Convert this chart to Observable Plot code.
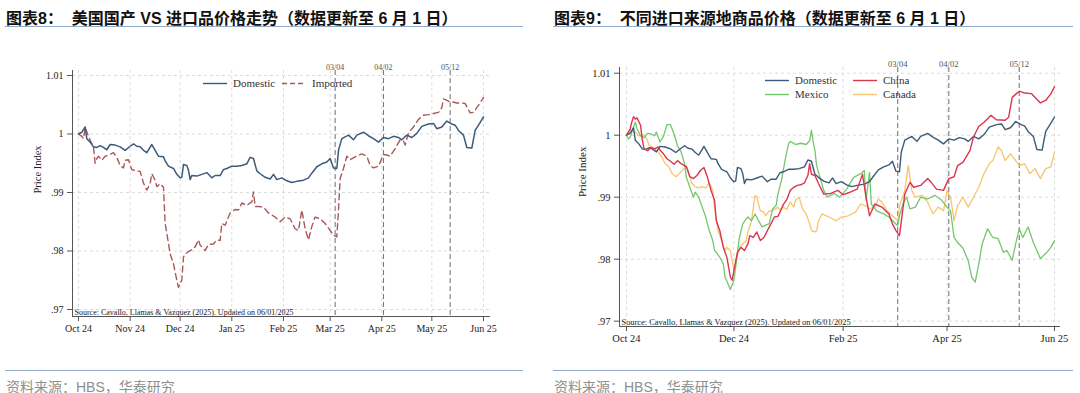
<!DOCTYPE html>
<html>
<head>
<meta charset="utf-8">
<script src="https://cdn.jsdelivr.net/npm/d3@7"></script>
<script src="https://cdn.jsdelivr.net/npm/@observablehq/plot@0.6"></script>
<style>
  html, body { margin: 0; padding: 0; background: #fff; }
  body { width: 1080px; height: 393px; position: relative; overflow: hidden; }
  .title { position: absolute; top: 5px; height: 21px; line-height: 21px; font: 700 16px "Liberation Sans", "Noto Sans CJK SC", sans-serif; color: #111; white-space: pre; }
  .rule { position: absolute; height: 0; border-top: 1.5px solid #93abca; }
  .foot { position: absolute; top: 376px; line-height: 18px; font: 14px "Liberation Sans", "Noto Sans CJK SC", sans-serif; color: #8f8f8f; white-space: pre; }
  .chart { position: absolute; top: 40px; }
  .leg { position: absolute; font: 11px "Liberation Serif", serif; color: #333; line-height: 14px; white-space: nowrap; }
  .leg svg { position: absolute; left: -30px; top: 6px; }
</style>
</head>
<body>
<div class="title" style="left:6px">图表8：  美国国产 VS 进口品价格走势（数据更新至 6 月 1 日）</div>
<div class="rule" style="left:5px;width:518px;top:26px"></div>
<div class="title" style="left:554px">图表9：  不同进口来源地商品价格（数据更新至 6 月 1 日）</div>
<div class="rule" style="left:553px;width:520px;top:26px"></div>
<div id="left" class="chart" style="left:0"></div>
<div id="right" class="chart" style="left:540px"></div>
<div class="rule" style="left:5px;width:518px;top:370px"></div>
<div class="rule" style="left:553px;width:520px;top:370px"></div>
<div class="foot" style="left:6px">资料来源：HBS，华泰研究</div>
<div class="foot" style="left:554px">资料来源：HBS，华泰研究</div>
<div id="legends"></div>
<script>
// ---------------- data ----------------
const domestic = [
["2024-10-01",1.0000],["2024-10-03",1.0003],["2024-10-05",1.0012],["2024-10-06",0.9992],["2024-10-08",0.9986],["2024-10-10",0.9978],["2024-10-12",0.9977],["2024-10-14",0.9980],["2024-10-16",0.9977],["2024-10-18",0.9973],["2024-10-20",0.9982],["2024-10-23",0.9981],["2024-10-26",0.9978],["2024-10-29",0.9972],
["2024-11-01",0.9979],["2024-11-03",0.9983],["2024-11-05",0.9979],["2024-11-07",0.9978],["2024-11-09",0.9972],["2024-11-11",0.9968],["2024-11-14",0.9982],["2024-11-16",0.9972],["2024-11-18",0.9962],["2024-11-21",0.9961],["2024-11-22",0.9954],["2024-11-24",0.9945],["2024-11-27",0.9941],["2024-11-29",0.9931],
["2024-12-01",0.9925],["2024-12-02",0.9926],["2024-12-03",0.9948],["2024-12-05",0.9946],["2024-12-06",0.9938],["2024-12-07",0.9922],["2024-12-08",0.9929],["2024-12-11",0.9928],["2024-12-14",0.9931],["2024-12-17",0.9934],["2024-12-20",0.9925],["2024-12-22",0.9929],["2024-12-25",0.9929],["2024-12-27",0.9939],["2024-12-29",0.9941],
["2025-01-01",0.9945],["2025-01-04",0.9945],["2025-01-07",0.9946],["2025-01-10",0.9949],["2025-01-12",0.9960],["2025-01-14",0.9958],["2025-01-16",0.9937],["2025-01-18",0.9932],["2025-01-21",0.9926],["2025-01-24",0.9923],["2025-01-26",0.9931],["2025-01-28",0.9922],["2025-01-31",0.9925],
["2025-02-03",0.9920],["2025-02-06",0.9917],["2025-02-09",0.9919],["2025-02-13",0.9921],["2025-02-16",0.9925],["2025-02-18",0.9933],["2025-02-21",0.9944],["2025-02-24",0.9949],["2025-02-27",0.9952],
["2025-03-01",0.9958],["2025-03-03",0.9942],["2025-03-05",0.9941],["2025-03-06",0.9972],["2025-03-08",0.9992],["2025-03-12",0.9998],["2025-03-15",0.9990],["2025-03-17",0.9998],["2025-03-21",1.0003],["2025-03-24",0.9997],["2025-03-27",0.9992],["2025-03-30",0.9986],
["2025-04-02",0.9994],["2025-04-05",0.9992],["2025-04-08",0.9996],["2025-04-11",0.9994],["2025-04-13",0.9990],["2025-04-16",0.9998],["2025-04-19",0.9994],["2025-04-22",1.0001],["2025-04-25",1.0013],["2025-04-29",1.0017],
["2025-05-02",1.0018],["2025-05-04",1.0009],["2025-05-07",1.0012],["2025-05-10",1.0022],["2025-05-13",1.0017],["2025-05-15",1.0015],["2025-05-17",1.0006],["2025-05-20",0.9998],["2025-05-22",0.9977],["2025-05-25",0.9976],["2025-05-27",1.0006],["2025-05-29",1.0015],["2025-06-01",1.0029]
];
const imported = [
["2024-10-01",1.0000],["2024-10-03",0.9996],["2024-10-04",0.9992],["2024-10-05",1.0011],["2024-10-07",0.9996],["2024-10-08",0.9989],["2024-10-10",0.9978],["2024-10-11",0.9950],["2024-10-12",0.9958],["2024-10-13",0.9962],["2024-10-15",0.9955],["2024-10-17",0.9962],["2024-10-19",0.9964],["2024-10-22",0.9968],["2024-10-24",0.9960],["2024-10-26",0.9946],["2024-10-28",0.9942],["2024-10-29",0.9955],["2024-10-31",0.9956],
["2024-11-02",0.9939],["2024-11-05",0.9937],["2024-11-07",0.9936],["2024-11-09",0.9916],["2024-11-11",0.9904],["2024-11-13",0.9915],["2024-11-14",0.9932],["2024-11-16",0.9921],["2024-11-17",0.9910],["2024-11-19",0.9915],["2024-11-21",0.9909],["2024-11-22",0.9847],["2024-11-24",0.9813],["2024-11-25",0.9795],["2024-11-27",0.9778],["2024-11-29",0.9750],["2024-11-30",0.9738],
["2024-12-02",0.9750],["2024-12-03",0.9790],["2024-12-05",0.9797],["2024-12-08",0.9802],["2024-12-10",0.9807],["2024-12-12",0.9819],["2024-12-13",0.9810],["2024-12-16",0.9801],["2024-12-18",0.9811],["2024-12-21",0.9812],["2024-12-23",0.9819],["2024-12-25",0.9818],["2024-12-26",0.9847],["2024-12-28",0.9844],["2024-12-31",0.9865],
["2025-01-03",0.9871],["2025-01-05",0.9870],["2025-01-07",0.9882],["2025-01-10",0.9878],["2025-01-13",0.9884],["2025-01-14",0.9901],["2025-01-15",0.9876],["2025-01-17",0.9876],["2025-01-20",0.9875],["2025-01-23",0.9865],["2025-01-27",0.9858],["2025-01-30",0.9850],
["2025-02-02",0.9858],["2025-02-05",0.9855],["2025-02-08",0.9838],["2025-02-10",0.9835],["2025-02-12",0.9870],["2025-02-14",0.9838],["2025-02-16",0.9819],["2025-02-18",0.9842],["2025-02-20",0.9858],["2025-02-23",0.9855],["2025-02-26",0.9847],
["2025-03-01",0.9835],["2025-03-03",0.9827],["2025-03-05",0.9824],["2025-03-06",0.9870],["2025-03-07",0.9924],["2025-03-09",0.9941],["2025-03-11",0.9962],["2025-03-13",0.9956],["2025-03-16",0.9961],["2025-03-20",0.9966],["2025-03-23",0.9962],["2025-03-25",0.9946],["2025-03-27",0.9942],["2025-03-30",0.9945],
["2025-04-02",0.9965],["2025-04-04",0.9964],["2025-04-06",0.9962],["2025-04-09",0.9975],["2025-04-12",0.9990],["2025-04-14",0.9988],["2025-04-15",0.9981],["2025-04-17",1.0002],["2025-04-20",1.0012],["2025-04-23",1.0025],["2025-04-26",1.0032],["2025-04-29",1.0033],
["2025-05-02",1.0035],["2025-05-05",1.0037],["2025-05-07",1.0045],["2025-05-08",1.0060],["2025-05-11",1.0056],["2025-05-13",1.0055],["2025-05-16",1.0053],["2025-05-19",1.0053],["2025-05-21",1.0052],["2025-05-24",1.0036],["2025-05-26",1.0037],["2025-05-29",1.0049],["2025-06-01",1.0062]
];
const china = [
["2024-10-01",1.0000],["2024-10-02",1.0005],["2024-10-03",1.0009],["2024-10-04",1.0021],["2024-10-05",1.0030],["2024-10-06",1.0026],["2024-10-07",1.0028],["2024-10-09",1.0016],["2024-10-10",0.9992],["2024-10-11",0.9978],["2024-10-13",0.9975],["2024-10-15",0.9980],["2024-10-17",0.9978],["2024-10-19",0.9981],["2024-10-20",0.9976],["2024-10-22",0.9970],["2024-10-24",0.9962],["2024-10-26",0.9958],["2024-10-28",0.9953],["2024-10-30",0.9959],
["2024-11-01",0.9954],["2024-11-03",0.9951],["2024-11-04",0.9949],["2024-11-06",0.9933],["2024-11-08",0.9930],["2024-11-10",0.9935],["2024-11-12",0.9943],["2024-11-14",0.9948],["2024-11-16",0.9932],["2024-11-18",0.9911],["2024-11-20",0.9895],["2024-11-21",0.9862],["2024-11-23",0.9846],["2024-11-25",0.9819],["2024-11-27",0.9803],["2024-11-29",0.9771],["2024-11-30",0.9766],
["2024-12-01",0.9782],["2024-12-03",0.9811],["2024-12-05",0.9819],["2024-12-07",0.9814],["2024-12-09",0.9825],["2024-12-10",0.9838],["2024-12-12",0.9835],["2024-12-14",0.9844],["2024-12-16",0.9830],["2024-12-18",0.9835],["2024-12-20",0.9846],["2024-12-22",0.9857],["2024-12-24",0.9868],["2024-12-26",0.9869],["2024-12-28",0.9881],["2024-12-29",0.9888],["2024-12-31",0.9896],
["2025-01-02",0.9911],["2025-01-04",0.9916],["2025-01-06",0.9919],["2025-01-08",0.9920],["2025-01-10",0.9923],["2025-01-12",0.9935],["2025-01-13",0.9954],["2025-01-14",0.9937],["2025-01-16",0.9935],["2025-01-18",0.9922],["2025-01-21",0.9905],["2025-01-25",0.9906],["2025-01-29",0.9911],
["2025-02-01",0.9904],["2025-02-05",0.9908],["2025-02-09",0.9913],["2025-02-12",0.9937],["2025-02-14",0.9900],["2025-02-16",0.9870],["2025-02-19",0.9889],["2025-02-23",0.9884],["2025-02-27",0.9873],
["2025-03-01",0.9857],["2025-03-03",0.9846],["2025-03-05",0.9838],["2025-03-08",0.9905],["2025-03-11",0.9924],["2025-03-13",0.9916],["2025-03-17",0.9919],["2025-03-21",0.9930],["2025-03-23",0.9924],["2025-03-26",0.9913],["2025-03-30",0.9911],
["2025-04-02",0.9930],["2025-04-05",0.9933],["2025-04-07",0.9951],["2025-04-10",0.9956],["2025-04-14",0.9975],["2025-04-16",0.9997],["2025-04-19",1.0014],["2025-04-22",1.0021],["2025-04-26",1.0032],["2025-04-29",1.0025],
["2025-05-04",1.0024],["2025-05-06",1.0029],["2025-05-08",1.0061],["2025-05-12",1.0071],["2025-05-15",1.0068],["2025-05-19",1.0067],["2025-05-24",1.0052],["2025-05-27",1.0056],["2025-05-30",1.0067],["2025-06-01",1.0078]
];
const mexico = [
["2024-10-01",1.0000],["2024-10-02",0.9994],["2024-10-03",0.9996],["2024-10-05",1.0013],["2024-10-06",1.0021],["2024-10-07",1.0010],["2024-10-09",0.9999],["2024-10-11",0.9996],["2024-10-13",1.0003],["2024-10-15",1.0002],["2024-10-17",0.9999],["2024-10-18",1.0005],["2024-10-20",0.9989],["2024-10-22",0.9998],["2024-10-24",1.0017],["2024-10-26",1.0017],["2024-10-28",1.0002],["2024-10-30",0.9983],
["2024-11-01",0.9973],["2024-11-03",0.9954],["2024-11-04",0.9932],["2024-11-06",0.9916],["2024-11-08",0.9900],["2024-11-09",0.9908],["2024-11-11",0.9900],["2024-11-13",0.9884],["2024-11-15",0.9868],["2024-11-17",0.9846],["2024-11-19",0.9830],["2024-11-20",0.9814],["2024-11-21",0.9811],["2024-11-23",0.9803],["2024-11-25",0.9792],["2024-11-26",0.9771],["2024-11-28",0.9758],["2024-11-29",0.9751],
["2024-12-01",0.9766],["2024-12-02",0.9787],["2024-12-04",0.9833],["2024-12-06",0.9857],["2024-12-08",0.9865],["2024-12-09",0.9868],["2024-12-11",0.9862],["2024-12-13",0.9873],["2024-12-15",0.9862],["2024-12-17",0.9852],["2024-12-19",0.9855],["2024-12-21",0.9857],["2024-12-23",0.9881],["2024-12-25",0.9887],["2024-12-26",0.9905],["2024-12-28",0.9927],["2024-12-30",0.9959],
["2025-01-01",0.9986],["2025-01-02",0.9990],["2025-01-05",0.9985],["2025-01-08",0.9987],["2025-01-11",0.9985],["2025-01-13",0.9991],["2025-01-14",1.0008],["2025-01-15",0.9990],["2025-01-16",0.9975],["2025-01-17",0.9950],["2025-01-21",0.9911],["2025-01-23",0.9900],["2025-01-27",0.9906],["2025-01-30",0.9900],
["2025-02-03",0.9913],["2025-02-07",0.9932],["2025-02-11",0.9938],["2025-02-13",0.9943],["2025-02-14",0.9895],["2025-02-16",0.9940],["2025-02-17",0.9889],["2025-02-20",0.9878],["2025-02-24",0.9873],["2025-02-27",0.9868],
["2025-03-04",0.9854],["2025-03-05",0.9870],["2025-03-07",0.9889],["2025-03-09",0.9900],["2025-03-11",0.9881],["2025-03-14",0.9884],["2025-03-17",0.9900],["2025-03-21",0.9897],["2025-03-25",0.9903],["2025-03-29",0.9895],
["2025-04-01",0.9884],["2025-04-03",0.9878],["2025-04-05",0.9835],["2025-04-07",0.9827],["2025-04-10",0.9818],["2025-04-13",0.9798],["2025-04-15",0.9771],["2025-04-17",0.9763],["2025-04-19",0.9792],["2025-04-21",0.9825],["2025-04-24",0.9849],["2025-04-27",0.9835],["2025-04-30",0.9833],
["2025-05-03",0.9811],["2025-05-05",0.9814],["2025-05-08",0.9798],["2025-05-10",0.9825],["2025-05-12",0.9849],["2025-05-14",0.9835],["2025-05-17",0.9852],["2025-05-20",0.9827],["2025-05-24",0.9801],["2025-05-27",0.9809],["2025-05-30",0.9819],["2025-06-01",0.9830]
];
const canada = [
["2024-10-01",1.0000],["2024-10-02",1.0002],["2024-10-04",1.0008],["2024-10-06",1.0005],["2024-10-08",0.9999],["2024-10-10",1.0001],["2024-10-12",0.9997],["2024-10-14",0.9983],["2024-10-16",0.9981],["2024-10-18",0.9975],["2024-10-19",0.9973],["2024-10-21",0.9965],["2024-10-23",0.9954],["2024-10-25",0.9949],["2024-10-27",0.9938],["2024-10-29",0.9933],["2024-10-31",0.9938],
["2024-11-02",0.9944],["2024-11-04",0.9951],["2024-11-05",0.9943],["2024-11-07",0.9923],["2024-11-09",0.9917],["2024-11-11",0.9915],["2024-11-13",0.9917],["2024-11-15",0.9915],["2024-11-17",0.9923],["2024-11-19",0.9911],["2024-11-20",0.9884],["2024-11-22",0.9846],["2024-11-24",0.9830],["2024-11-26",0.9814],["2024-11-27",0.9819],["2024-11-29",0.9814],
["2024-12-01",0.9782],["2024-12-02",0.9792],["2024-12-04",0.9819],["2024-12-06",0.9825],["2024-12-08",0.9830],["2024-12-09",0.9844],["2024-12-11",0.9862],["2024-12-13",0.9903],["2024-12-14",0.9900],["2024-12-16",0.9878],["2024-12-18",0.9876],["2024-12-19",0.9870],["2024-12-21",0.9878],["2024-12-23",0.9878],["2024-12-26",0.9884],["2024-12-27",0.9880],["2024-12-29",0.9884],["2024-12-31",0.9880],
["2025-01-02",0.9892],["2025-01-04",0.9884],["2025-01-05",0.9895],["2025-01-07",0.9900],["2025-01-09",0.9881],["2025-01-11",0.9873],["2025-01-13",0.9857],["2025-01-14",0.9846],["2025-01-16",0.9844],["2025-01-17",0.9846],["2025-01-18",0.9862],["2025-01-20",0.9873],["2025-01-24",0.9868],["2025-01-28",0.9862],["2025-01-31",0.9868],
["2025-02-04",0.9870],["2025-02-08",0.9876],["2025-02-11",0.9889],["2025-02-14",0.9886],["2025-02-16",0.9881],["2025-02-19",0.9884],["2025-02-21",0.9897],["2025-02-23",0.9892],["2025-02-26",0.9878],
["2025-03-01",0.9870],["2025-03-04",0.9862],["2025-03-05",0.9886],["2025-03-08",0.9911],["2025-03-10",0.9951],["2025-03-12",0.9911],["2025-03-14",0.9900],["2025-03-18",0.9903],["2025-03-21",0.9892],["2025-03-24",0.9873],["2025-03-27",0.9884],["2025-03-30",0.9878],
["2025-04-01",0.9911],["2025-04-03",0.9900],["2025-04-05",0.9862],["2025-04-07",0.9886],["2025-04-10",0.9900],["2025-04-13",0.9884],["2025-04-16",0.9900],["2025-04-19",0.9916],["2025-04-22",0.9938],["2025-04-25",0.9954],["2025-04-27",0.9959],["2025-04-30",0.9981],
["2025-05-02",0.9975],["2025-05-04",0.9959],["2025-05-07",0.9970],["2025-05-10",0.9959],["2025-05-12",0.9951],["2025-05-15",0.9954],["2025-05-18",0.9938],["2025-05-21",0.9946],["2025-05-24",0.9930],["2025-05-27",0.9946],["2025-05-30",0.9949],["2025-06-01",0.9973]
];

const eventDates = ["2025-03-04", "2025-04-02", "2025-05-12"];
const eventLabels = ["03/04", "04/02", "05/12"];

const yTicks = [0.97, 0.98, 0.99, 1.00, 1.01];
const yTickLabels = [".97", ".98", ".99", "1", "1.01"];

const leftMonths = ["2024-10-01","2024-11-01","2024-12-01","2025-01-01","2025-02-01","2025-03-01","2025-04-01","2025-05-01","2025-06-01"];
const leftMonthLabels = ["Oct 24","Nov 24","Dec 24","Jan 25","Feb 25","Mar 25","Apr 25","May 25","Jun 25"];
const rightMonths = ["2024-10-01","2024-12-01","2025-02-01","2025-04-01","2025-06-01"];
const rightMonthLabels = ["Oct 24","Dec 24","Feb 25","Apr 25","Jun 25"];

const sourceNote = "Source: Cavallo, Llamas & Vazquez (2025). Updated on 06/01/2025";
const yTitle = "Price Index";

const colors = { Domestic: "#3c5a79", Imported: "#a9585a", China: "#dc3550", Mexico: "#74c86c", Canada: "#f7c56c" };

// ---------------- helpers ----------------
const parse = d3.utcParse("%Y-%m-%d");
const rows = (series) => series.map(([d, v]) => ({ date: parse(d), value: v }));
const evRows = eventDates.map((d, i) => ({ date: parse(d), label: eventLabels[i] }));

function frameMarks(xDom, yDom, months, monthLabels, opts) {
  const mDates = months.map(parse);
  return [
    Plot.gridY(yTicks, { stroke: "#dcdcdc", strokeOpacity: 1, strokeDasharray: "3,3" }),
    Plot.gridX(mDates, { stroke: "#dcdcdc", strokeOpacity: 1, strokeDasharray: "3,3" }),
    Plot.ruleX(evRows, { x: "date", stroke: "#7a7a7a", strokeWidth: 1.1, strokeDasharray: "5,3" }),
    Plot.text(evRows, { x: "date", text: "label", frameAnchor: "top", dy: opts.evDy, fontSize: opts.evSize, fill: "#555" }),
    Plot.ruleX([xDom[0]], { stroke: "#555" }),
    Plot.ruleY([yDom[0]], { stroke: "#555" }),
    Plot.axisY(yTicks, { tickFormat: (d, i) => yTickLabels[i], tickSize: 5, tickPadding: 4, stroke: "#555", fill: "#222", fontSize: opts.tickSize, label: null }),
    Plot.axisX(mDates, { tickFormat: (d, i) => monthLabels[i], tickSize: 5, tickPadding: 3, stroke: "#555", fill: "#222", fontSize: opts.tickSize, label: null }),
    Plot.text([yTitle], { frameAnchor: "left", dx: opts.titleDx, rotate: -90, fontSize: opts.titleSize, fill: "#222" }),
    Plot.text([sourceNote], { frameAnchor: "bottom-left", textAnchor: "start", lineAnchor: "bottom", dx: 2, dy: -2, fontSize: opts.srcSize, fill: "#222" })
  ];
}

// ---------------- left chart ----------------
const leftX = [new Date(Date.UTC(2024, 8, 27, 10)), new Date(Date.UTC(2025, 5, 5, 5))];
const leftY = [0.9688, 1.01085];
const leftPlot = Plot.plot({
  width: 540, height: 300,
  marginLeft: 72, marginRight: 50, marginTop: 30, marginBottom: 24,
  style: { fontFamily: "'Liberation Serif', serif", background: "transparent", color: "#222" },
  x: { type: "utc", domain: leftX },
  y: { domain: leftY },
  marks: [
    ...frameMarks(leftX, leftY, leftMonths, leftMonthLabels, { evDy: -6, evSize: 8, tickSize: 10, titleDx: -35, titleSize: 10.5, srcSize: 8 }),
    Plot.line(rows(imported), { x: "date", y: "value", stroke: colors.Imported, strokeWidth: 1.4, strokeDasharray: "6,4" }),
    Plot.line(rows(domestic), { x: "date", y: "value", stroke: colors.Domestic, strokeWidth: 1.5 })
  ]
});
document.getElementById("left").append(leftPlot);

// ---------------- right chart ----------------
const rightX = [new Date(Date.UTC(2024, 8, 27, 1)), new Date(Date.UTC(2025, 5, 4, 10))];
const rightY = [0.96914, 1.01092];
const rightPlot = Plot.plot({
  width: 540, height: 315,
  marginLeft: 79, marginRight: 20, marginTop: 27, marginBottom: 29,
  style: { fontFamily: "'Liberation Serif', serif", background: "transparent", color: "#222" },
  x: { type: "utc", domain: rightX },
  y: { domain: rightY },
  marks: [
    ...frameMarks(rightX, rightY, rightMonths, rightMonthLabels, { evDy: -7, evSize: 8.5, tickSize: 10.5, titleDx: -37, titleSize: 11, srcSize: 8.4 }),
    Plot.line(rows(canada), { x: "date", y: "value", stroke: colors.Canada, strokeWidth: 1.3 }),
    Plot.line(rows(mexico), { x: "date", y: "value", stroke: colors.Mexico, strokeWidth: 1.3 }),
    Plot.line(rows(domestic), { x: "date", y: "value", stroke: colors.Domestic, strokeWidth: 1.4 }),
    Plot.line(rows(china), { x: "date", y: "value", stroke: colors.China, strokeWidth: 1.4 })
  ]
});
document.getElementById("right").append(rightPlot);

// ---------------- legends ----------------
const legendItems = [
  { name: "Domestic", left: 233, top: 76, dash: null },
  { name: "Imported", left: 312, top: 76, dash: "5,3" },
  { name: "Domestic", left: 795, top: 73, dash: null },
  { name: "Mexico", left: 795, top: 87, dash: null },
  { name: "China", left: 883, top: 73, dash: null },
  { name: "Canada", left: 883, top: 87, dash: null }
];
const legHost = document.getElementById("legends");
for (const it of legendItems) {
  const div = document.createElement("div");
  div.className = "leg";
  div.style.left = it.left + "px";
  div.style.top = it.top + "px";
  div.innerHTML = `<svg width="24" height="3"><line x1="0" x2="24" y1="1.5" y2="1.5" stroke="${colors[it.name]}" stroke-width="1.4" ${it.dash ? `stroke-dasharray="${it.dash}"` : ""}/></svg>${it.name}`;
  legHost.append(div);
}
</script>
</body>
</html>
